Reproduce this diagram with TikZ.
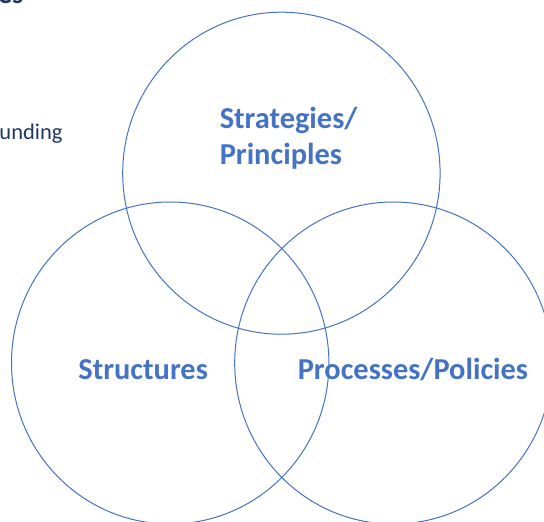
\documentclass[tikz,border=0pt]{standalone}
\usepackage{fontspec}
\setmainfont{Carlito}
\usetikzlibrary{shapes.geometric}
\definecolor{accent}{HTML}{4472C4}
\definecolor{navy}{HTML}{1F3864}
\tikzset{
  ring/.style={ellipse, draw=accent, line width=1pt, inner sep=0pt,
    minimum width=317.4pt, minimum height=322pt},
  biglabel/.style={text=accent, font=\fontsize{30.4}{36}\selectfont\bfseries,
    inner sep=0pt, anchor=base west},
  sidetext/.style={text=navy, inner sep=0pt, anchor=base east}
}
\begin{document}
\begin{tikzpicture}[x=1pt,y=-1pt]
\useasboundingbox (0,0) rectangle (544,522);
\clip (0,0) rectangle (544,522);
\node[ring] (top) at (281.4,173.2) {};
\node[ring] (left) at (170.2,363) {};
\node[ring] (right) at (393.4,363) {};
\node[biglabel] (strat) at (219.6,128.3) {Strategies/};
\node[biglabel] (princ) at (219.6,164.3) {Principles};
\node[biglabel] (struct) at (78.2,379.5) {Structures};
\node[biglabel] (proc) at (297.6,379.5) {Processes/Policies};
\node[sidetext, font=\fontsize{22.5}{27}\selectfont] (und) at (62.7,139.3) {unding};
\node[sidetext, font=\fontsize{28}{32}\selectfont\bfseries] (head) at (23.5,4) {es};
\end{tikzpicture}
\end{document}
